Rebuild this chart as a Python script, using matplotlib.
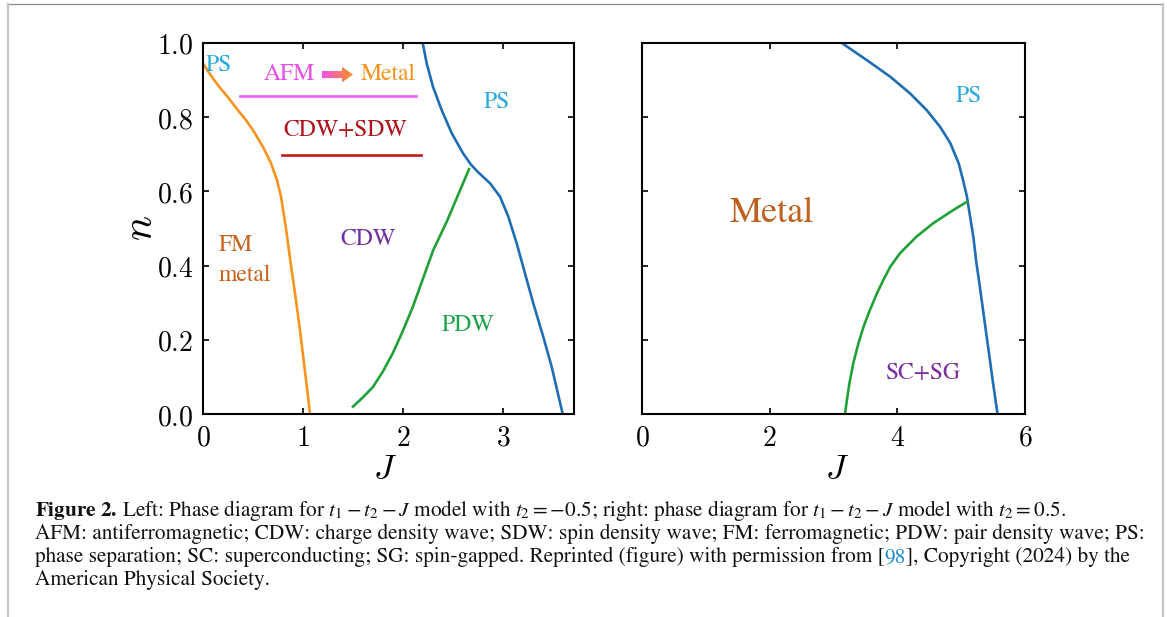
import numpy as np
import matplotlib
matplotlib.use("Agg")
import matplotlib.pyplot as plt
from matplotlib.colors import LinearSegmentedColormap
from matplotlib.patches import Polygon
from matplotlib.lines import Line2D

plt.rcParams['mathtext.fontset'] = 'cm'
SERIF = 'STIXGeneral'

# ---- left panel, t2 = -0.5 ----
fm_J = [0.0, 0.06, 0.12, 0.18, 0.24, 0.34, 0.43, 0.50, 0.60, 0.68, 0.74, 0.78, 0.83, 0.875, 0.925, 0.97, 1.01, 1.05, 1.07]
fm_n = [0.945, 0.92, 0.897, 0.876, 0.857, 0.822, 0.792, 0.765, 0.72, 0.676, 0.63, 0.586, 0.50, 0.41, 0.316, 0.226, 0.137, 0.047, 0.0]
pdw_J = [1.50, 1.60, 1.70, 1.80, 1.90, 2.00, 2.10, 2.20, 2.30, 2.44, 2.55, 2.66]
pdw_n = [0.02, 0.045, 0.073, 0.115, 0.165, 0.225, 0.29, 0.365, 0.44, 0.52, 0.59, 0.66]
psL_J = [2.197, 2.237, 2.30, 2.387, 2.487, 2.60, 2.68, 2.75, 2.87, 2.97, 3.053, 3.137, 3.22, 3.303, 3.403, 3.487, 3.597]
psL_n = [1.0, 0.945, 0.882, 0.819, 0.757, 0.703, 0.672, 0.652, 0.622, 0.586, 0.532, 0.46, 0.379, 0.298, 0.208, 0.127, 0.0]
afm_J = [0.37, 2.13]
afm_n = [0.857, 0.857]
sdw_J = [0.79, 2.18]
sdw_n = [0.698, 0.698]

# ---- right panel, t2 = 0.5 ----
psR_J = [3.13, 3.52, 3.89, 4.20, 4.46, 4.67, 4.83, 4.96, 5.03, 5.09, 5.14, 5.19, 5.24, 5.30, 5.35, 5.40, 5.45, 5.50, 5.57]
psR_n = [1.0, 0.954, 0.909, 0.864, 0.819, 0.774, 0.73, 0.676, 0.63, 0.586, 0.532, 0.478, 0.406, 0.334, 0.271, 0.208, 0.146, 0.083, 0.0]
sc_J = [5.09, 4.88, 4.56, 4.30, 4.04, 3.89, 3.78, 3.68, 3.57, 3.47, 3.39, 3.31, 3.25, 3.21, 3.18]
sc_n = [0.572, 0.55, 0.514, 0.478, 0.433, 0.397, 0.361, 0.325, 0.28, 0.235, 0.19, 0.137, 0.083, 0.038, 0.0]

n_ticks = [0.0, 0.2, 0.4, 0.6, 0.8, 1.0]
left_J_ticks = [0, 1, 2, 3]
right_J_ticks = [0, 2, 4, 6]

c_orange = '#f7931e'
c_blue = '#1f6db2'
c_green = '#22a038'
c_ps = '#29aae1'

W, H = 1167, 617
fig = plt.figure(figsize=(W / 100, H / 100), dpi=100)
axL = fig.add_axes([203 / W, (H - 414) / H, 371 / W, 371 / H])
axR = fig.add_axes([642 / W, (H - 414) / H, 383 / W, 371 / H])

for ax in (axL, axR):
    for s in ax.spines.values():
        s.set_linewidth(1.5)
    ax.tick_params(direction='in', length=4, width=1.2, top=True, right=True,
                   labelsize=20, pad=7)
    ax.set_ylim(0, 1)
    ax.set_yticks(n_ticks)
    ax.set_xlabel('$J$', fontsize=25)

axL.set_xlim(0, 3.71)
axL.set_xticks(left_J_ticks)
axL.set_xticklabels(['$%d$' % v for v in left_J_ticks])
axL.set_yticklabels(['$%.1f$' % v for v in n_ticks])
axL.set_ylabel('$n$', fontsize=30)
axL.yaxis.set_label_coords(-0.112, 0.5)
axL.xaxis.set_label_coords(0.49, -0.1)

axR.set_xlim(0, 6)
axR.set_xticks(right_J_ticks)
axR.set_xticklabels(['$%d$' % v for v in right_J_ticks])
axR.tick_params(labelleft=False)
axR.xaxis.set_label_coords(0.51, -0.1)

lw = 1.9
axL.plot(fm_J, fm_n, color=c_orange, lw=lw)
axL.plot(pdw_J, pdw_n, color=c_green, lw=lw)
axL.plot(psL_J, psL_n, color=c_blue, lw=lw)
axL.plot(afm_J, afm_n, color='#f060ee', lw=lw)
axL.plot(sdw_J, sdw_n, color='#c4141c', lw=lw)

axR.plot(psR_J, psR_n, color=c_blue, lw=lw)
axR.plot(sc_J, sc_n, color=c_green, lw=lw)

fs = 17
tk = dict(family=SERIF, fontsize=fs, va='center')
axL.text(0.03, 0.94, 'PS', color=c_ps, ha='left', **tk)
axL.text(1.12, 0.915, 'AFM', color='#e84fe6', ha='right', **tk)
axL.text(1.58, 0.915, 'Metal', color='#f0931e', ha='left', **tk)
axL.text(1.42, 0.765, 'CDW+SDW', color='#b0121a', ha='center', **tk)
axL.text(0.16, 0.455, 'FM', color='#c8641e', ha='left', **tk)
axL.text(0.16, 0.375, 'metal', color='#c8641e', ha='left', **tk)
axL.text(1.65, 0.47, 'CDW', color='#7030a0', ha='center', **tk)
axL.text(2.65, 0.24, 'PDW', color='#1fa04a', ha='center', **tk)
axL.text(2.94, 0.84, 'PS', color=c_ps, ha='center', **tk)

axR.text(2.04, 0.54, 'Metal', color='#c0601e', ha='center', va='center', family=SERIF, fontsize=26)
axR.text(5.12, 0.855, 'PS', color=c_ps, ha='center', **tk)
axR.text(4.40, 0.11, 'SC+SG', color='#7b2fa0', ha='center', **tk)

# gradient arrow between AFM and Metal
a0, a1, ay = 1.19, 1.50, 0.915
sh, hh, hl = 0.0095, 0.021, 0.11
arrow = Polygon([(a0, ay - sh), (a1 - hl, ay - sh), (a1 - hl, ay - hh), (a1, ay),
                 (a1 - hl, ay + hh), (a1 - hl, ay + sh), (a0, ay + sh)],
                closed=True, facecolor='none', edgecolor='none')
axL.add_patch(arrow)
grad = LinearSegmentedColormap.from_list('g', ['#f050e8', '#f7931e'])
im = axL.imshow(np.linspace(0, 1, 64).reshape(1, -1), cmap=grad, aspect='auto',
                extent=[a0, a1, ay - hh, ay + hh], zorder=3)
im.set_clip_path(arrow)
axL.set_xlim(0, 3.71)
axL.set_ylim(0, 1)

# page frame
fig.add_artist(Line2D([7 / W, 1163 / W], [1 - 4 / H, 1 - 4 / H], color='#8a8a8a', lw=0.9))
fig.add_artist(Line2D([8 / W, 8 / W], [0, 1 - 4 / H], color='#c6c6c6', lw=1.6))
fig.add_artist(Line2D([1163 / W, 1163 / W], [0, 1 - 4 / H], color='#c6c6c6', lw=1.6))

# caption
cap = dict(family=SERIF, fontsize=15.3, math_fontfamily='stix', va='baseline', color='#111111')
renderer = fig.canvas.get_renderer()


def put_line(pieces, x, y):
    for s, extra in pieces:
        kw = dict(cap)
        kw.update(extra)
        t = fig.text(x / W, 1 - y / H, s, **kw)
        x += t.get_window_extent(renderer).width


put_line([(r'$\mathbf{Figure\ 2.}$', {}),
          (r' Left: Phase diagram for $t_1 - t_2 - J$ model with $t_2 = -0.5$; right: phase diagram for '
           r'$t_1 - t_2 - J$ model with $t_2 = 0.5$.', {})], 35, 516)
put_line([('AFM: antiferromagnetic; CDW: charge density wave; SDW: spin density wave; FM: ferromagnetic; '
           'PDW: pair density wave; PS:', {})], 35, 539)
put_line([('phase separation; SC: superconducting; SG: spin-gapped. Reprinted (figure) with permission from [', {}),
          ('98', {'color': '#1a8ccc'}),
          ('], Copyright (2024) by the', {})], 35, 562)
put_line([('American Physical Society.', {})], 35, 585)

fig.savefig('out.png', dpi=100)
